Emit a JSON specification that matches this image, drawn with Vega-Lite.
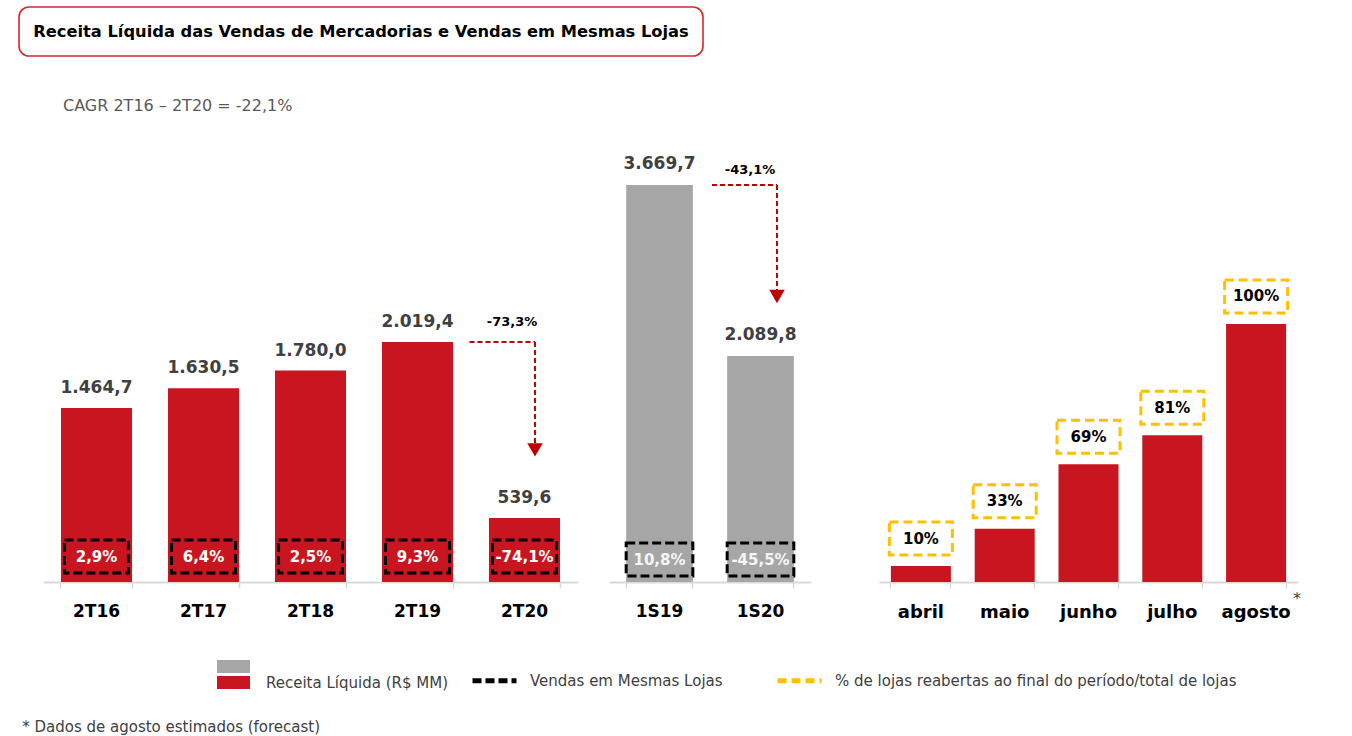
{
  "$schema": "https://vega.github.io/schema/vega-lite/v6.json",
  "padding": {"left": 18, "top": 6, "right": 0, "bottom": 0},
  "autosize": {"type": "pad"},
  "datasets": {
    "trimestre": [
      {"periodo": "2T16", "receita": 1464.7, "sss": 0.029},
      {"periodo": "2T17", "receita": 1630.5, "sss": 0.064},
      {"periodo": "2T18", "receita": 1780.0, "sss": 0.025},
      {"periodo": "2T19", "receita": 2019.4, "sss": 0.093},
      {"periodo": "2T20", "receita": 539.6, "sss": -0.741}
    ],
    "var_tri": [{"de": "2T19", "para": "2T20", "receita_de": 2019.4, "receita_para": 539.6, "variacao": -0.733}],
    "semestre": [
      {"periodo": "1S19", "receita": 3669.7, "sss": 0.108},
      {"periodo": "1S20", "receita": 2089.8, "sss": -0.455}
    ],
    "var_sem": [{"de": "1S19", "para": "1S20", "receita_de": 3669.7, "receita_para": 2089.8, "variacao": -0.431}],
    "mensal": [
      {"mes": "abril", "receita": 46, "lojas": 0.10},
      {"mes": "maio", "receita": 154, "lojas": 0.33},
      {"mes": "junho", "receita": 340, "lojas": 0.69},
      {"mes": "julho", "receita": 424, "lojas": 0.81},
      {"mes": "agosto", "receita": 745, "lojas": 1.0}
    ],
    "nota": [{"mes": "agosto", "marca": "*"}]
  },
  "title": {"text": "* Dados de agosto estimados (forecast)", "orient": "bottom", "anchor": "start", "frame": "bounds", "offset": 29, "dx": 4, "fontSize": 15, "fontWeight": "normal", "color": "#404040", "font": "DejaVu Sans"},
  "vconcat": [
    {
      "width": 684, "height": 49,
      "view": {"stroke": "#D9262E", "strokeWidth": 1.6, "cornerRadius": 10},
      "data": {"values": [{"t": "Receita Líquida das Vendas de Mercadorias e Vendas em Mesmas Lojas"}]},
      "mark": {"type": "text", "fontSize": 16.3, "fontWeight": "bold", "color": "#000000", "baseline": "middle"},
      "encoding": {"text": {"field": "t"}}
    },
    {
      "spacing": 23,
      "hconcat": [
        {
          "width": 1, "height": 441,
          "data": {"values": [{"s": ""}]},
          "mark": {"type": "text", "opacity": 0},
          "encoding": {"text": {"field": "s"}}
        },
        {
          "title": {"text": "CAGR 2T16 – 2T20 = -22,1%", "anchor": "start", "dx": 20, "offset": 27, "fontSize": 16, "fontWeight": "normal", "color": "#595959"},
          "spacing": 68,
          "hconcat": [
            {
              "spacing": 31,
              "hconcat": [
                {
                  "width": 535, "height": 441,
                  "layer": [
                    {
                      "data": {"name": "trimestre"},
                      "mark": {"type": "bar"},
                      "encoding": {
                        "x": {"field": "periodo", "type": "nominal", "title": null,
                              "scale": {"paddingInner": 0.336, "paddingOuter": 0.168},
                              "axis": {"labelAngle": 0, "bandPosition": 1, "tickExtra": true, "domainColor": "#D9D9D9", "domainWidth": 2, "tickColor": "#D9D9D9", "tickWidth": 1.5, "tickSize": 6, "labelFontSize": 17, "labelFontWeight": "bold", "labelColor": "#000000", "labelPadding": 15, "grid": false}},
                        "y": {"field": "receita", "type": "quantitative", "scale": {"domain": [0, 3712], "nice": false}, "axis": null},
                        "color": {"datum": "Receita Líquida (R$ MM)",
                                  "scale": {"domain": ["Receita Líquida semestral (R$ MM)", "Receita Líquida (R$ MM)"], "range": ["#A6A6A6", "#C8151F"]},
                                  "legend": {"orient": "none", "legendX": 207, "legendY": 652, "title": null, "direction": "vertical", "symbolType": "M-2.54,-1H2.54V1H-2.54Z", "symbolSize": 169, "symbolStrokeWidth": 0, "labelExpr": "datum.value == 'Receita Líquida semestral (R$ MM)' ? '' : datum.label", "labelFontSize": 15, "labelColor": "#404040", "labelOffset": 25, "rowPadding": 0, "padding": 0, "labelLimit": 400}}
                      }
                    },
                    {
                      "data": {"name": "trimestre"},
                      "mark": {"type": "text", "dy": -20, "baseline": "middle", "fontSize": 17, "fontWeight": "bold", "color": "#404040"},
                      "encoding": {
                        "x": {"field": "periodo", "type": "nominal", "title": null,
                              "axis": {"labelAngle": 0, "bandPosition": 1, "tickExtra": true, "domainColor": "#D9D9D9", "domainWidth": 2, "tickColor": "#D9D9D9", "tickWidth": 1.5, "tickSize": 6, "labelFontSize": 17, "labelFontWeight": "bold", "labelColor": "#000000", "labelPadding": 15, "grid": false}},
                        "y": {"field": "receita", "type": "quantitative", "axis": null},
                        "text": {"field": "receita", "type": "quantitative", "format": ",.1f"}
                      }
                    },
                    {
                      "data": {"name": "trimestre"},
                      "mark": {"type": "bar", "filled": false, "strokeWidth": 3, "width": {"band": 0.9}, "yOffset": -42, "y2Offset": -9},
                      "encoding": {
                        "x": {"field": "periodo", "type": "nominal", "title": null,
                              "axis": {"labelAngle": 0, "bandPosition": 1, "tickExtra": true, "domainColor": "#D9D9D9", "domainWidth": 2, "tickColor": "#D9D9D9", "tickWidth": 1.5, "tickSize": 6, "labelFontSize": 17, "labelFontWeight": "bold", "labelColor": "#000000", "labelPadding": 15, "grid": false}},
                        "y": {"datum": 0, "type": "quantitative", "axis": null},
                        "y2": {"datum": 0},
                        "stroke": {"datum": "Vendas em Mesmas Lojas",
                                   "scale": {"domain": ["Vendas em Mesmas Lojas", "% de lojas reabertas ao final do período/total de lojas"], "range": ["#000000", "#FFC000"]},
                                   "legend": {"orient": "none", "legendX": 451, "legendY": 649, "title": null, "direction": "horizontal", "symbolType": "stroke", "symbolSize": 1936, "symbolStrokeWidth": 5, "labelFontSize": 15, "labelColor": "#404040", "labelOffset": 11, "columnPadding": 44, "padding": 0, "labelLimit": 600}},
                        "strokeDash": {"datum": "Vendas em Mesmas Lojas",
                                   "scale": {"domain": ["Vendas em Mesmas Lojas", "% de lojas reabertas ao final do período/total de lojas"], "range": [[9, 4], [9, 5]]},
                                   "legend": {"orient": "none", "legendX": 451, "legendY": 649, "title": null, "direction": "horizontal", "symbolType": "stroke", "symbolSize": 1936, "symbolStrokeWidth": 5, "labelFontSize": 15, "labelColor": "#404040", "labelOffset": 11, "columnPadding": 44, "padding": 0, "labelLimit": 600}}
                      }
                    },
                    {
                      "data": {"name": "trimestre"},
                      "mark": {"type": "text", "dy": -25, "baseline": "middle", "fontSize": 15, "fontWeight": "bold", "color": "#FFFFFF"},
                      "encoding": {
                        "x": {"field": "periodo", "type": "nominal", "title": null,
                              "axis": {"labelAngle": 0, "bandPosition": 1, "tickExtra": true, "domainColor": "#D9D9D9", "domainWidth": 2, "tickColor": "#D9D9D9", "tickWidth": 1.5, "tickSize": 6, "labelFontSize": 17, "labelFontWeight": "bold", "labelColor": "#000000", "labelPadding": 15, "grid": false}},
                        "y": {"datum": 0, "type": "quantitative", "axis": null},
                        "text": {"field": "sss", "type": "quantitative", "format": ".1%"}
                      }
                    },
                    {
                      "data": {"name": "var_tri"},
                      "mark": {"type": "rule", "color": "#C00000", "strokeWidth": 2, "strokeDash": [5, 3], "xOffset": 52, "x2Offset": 10.5},
                      "encoding": {
                        "x": {"field": "de", "type": "nominal", "title": null,
                              "axis": {"labelAngle": 0, "bandPosition": 1, "tickExtra": true, "domainColor": "#D9D9D9", "domainWidth": 2, "tickColor": "#D9D9D9", "tickWidth": 1.5, "tickSize": 6, "labelFontSize": 17, "labelFontWeight": "bold", "labelColor": "#000000", "labelPadding": 15, "grid": false}},
                        "x2": {"field": "para"},
                        "y": {"field": "receita_de", "type": "quantitative", "axis": null}
                      }
                    },
                    {
                      "data": {"name": "var_tri"},
                      "mark": {"type": "rule", "color": "#C00000", "strokeWidth": 2, "strokeDash": [5, 3], "xOffset": 10.5, "y2Offset": -73},
                      "encoding": {
                        "x": {"field": "para", "type": "nominal", "title": null,
                              "axis": {"labelAngle": 0, "bandPosition": 1, "tickExtra": true, "domainColor": "#D9D9D9", "domainWidth": 2, "tickColor": "#D9D9D9", "tickWidth": 1.5, "tickSize": 6, "labelFontSize": 17, "labelFontWeight": "bold", "labelColor": "#000000", "labelPadding": 15, "grid": false}},
                        "y": {"field": "receita_de", "type": "quantitative", "axis": null},
                        "y2": {"field": "receita_para"}
                      }
                    },
                    {
                      "data": {"name": "var_tri"},
                      "mark": {"type": "point", "shape": "triangle-down", "filled": true, "opacity": 1, "color": "#C00000", "size": 240, "xOffset": 10.5, "yOffset": -68},
                      "encoding": {
                        "x": {"field": "para", "type": "nominal", "title": null,
                              "axis": {"labelAngle": 0, "bandPosition": 1, "tickExtra": true, "domainColor": "#D9D9D9", "domainWidth": 2, "tickColor": "#D9D9D9", "tickWidth": 1.5, "tickSize": 6, "labelFontSize": 17, "labelFontWeight": "bold", "labelColor": "#000000", "labelPadding": 15, "grid": false}},
                        "y": {"field": "receita_para", "type": "quantitative", "axis": null}
                      }
                    },
                    {
                      "data": {"name": "var_tri"},
                      "mark": {"type": "text", "dx": -12.5, "dy": -20, "baseline": "middle", "fontSize": 13, "fontWeight": "bold", "color": "#000000"},
                      "encoding": {
                        "x": {"field": "para", "type": "nominal", "title": null,
                              "axis": {"labelAngle": 0, "bandPosition": 1, "tickExtra": true, "domainColor": "#D9D9D9", "domainWidth": 2, "tickColor": "#D9D9D9", "tickWidth": 1.5, "tickSize": 6, "labelFontSize": 17, "labelFontWeight": "bold", "labelColor": "#000000", "labelPadding": 15, "grid": false}},
                        "y": {"field": "receita_de", "type": "quantitative", "axis": null},
                        "text": {"field": "variacao", "type": "quantitative", "format": ".1%"}
                      }
                    }
                  ]
                },
                {
                  "width": 202, "height": 441,
                  "layer": [
                    {
                      "data": {"name": "semestre"},
                      "mark": {"type": "bar"},
                      "encoding": {
                        "x": {"field": "periodo", "type": "nominal", "title": null,
                              "scale": {"paddingInner": 0.34, "paddingOuter": 0.17},
                              "axis": {"labelAngle": 0, "bandPosition": 1, "tickExtra": true, "domainColor": "#D9D9D9", "domainWidth": 2, "tickColor": "#D9D9D9", "tickWidth": 1.5, "tickSize": 6, "labelFontSize": 17, "labelFontWeight": "bold", "labelColor": "#000000", "labelPadding": 15, "grid": false}},
                        "y": {"field": "receita", "type": "quantitative", "scale": {"domain": [0, 4076.5], "nice": false}, "axis": null},
                        "color": {"datum": "Receita Líquida semestral (R$ MM)",
                                  "scale": {"domain": ["Receita Líquida semestral (R$ MM)", "Receita Líquida (R$ MM)"], "range": ["#A6A6A6", "#C8151F"]},
                                  "legend": null}
                      }
                    },
                    {
                      "data": {"name": "semestre"},
                      "mark": {"type": "text", "dy": -21, "baseline": "middle", "fontSize": 17, "fontWeight": "bold", "color": "#404040"},
                      "encoding": {
                        "x": {"field": "periodo", "type": "nominal", "title": null,
                              "axis": {"labelAngle": 0, "bandPosition": 1, "tickExtra": true, "domainColor": "#D9D9D9", "domainWidth": 2, "tickColor": "#D9D9D9", "tickWidth": 1.5, "tickSize": 6, "labelFontSize": 17, "labelFontWeight": "bold", "labelColor": "#000000", "labelPadding": 15, "grid": false}},
                        "y": {"field": "receita", "type": "quantitative", "axis": null},
                        "text": {"field": "receita", "type": "quantitative", "format": ",.1f"}
                      }
                    },
                    {
                      "data": {"name": "semestre"},
                      "mark": {"type": "bar", "filled": false, "strokeWidth": 3, "width": {"band": 1}, "yOffset": -39, "y2Offset": -6},
                      "encoding": {
                        "x": {"field": "periodo", "type": "nominal", "title": null,
                              "axis": {"labelAngle": 0, "bandPosition": 1, "tickExtra": true, "domainColor": "#D9D9D9", "domainWidth": 2, "tickColor": "#D9D9D9", "tickWidth": 1.5, "tickSize": 6, "labelFontSize": 17, "labelFontWeight": "bold", "labelColor": "#000000", "labelPadding": 15, "grid": false}},
                        "y": {"datum": 0, "type": "quantitative", "axis": null},
                        "y2": {"datum": 0},
                        "stroke": {"datum": "Vendas em Mesmas Lojas",
                                   "scale": {"domain": ["Vendas em Mesmas Lojas", "% de lojas reabertas ao final do período/total de lojas"], "range": ["#000000", "#FFC000"]},
                                   "legend": null},
                        "strokeDash": {"datum": "Vendas em Mesmas Lojas",
                                   "scale": {"domain": ["Vendas em Mesmas Lojas", "% de lojas reabertas ao final do período/total de lojas"], "range": [[9, 4], [9, 5]]},
                                   "legend": null}
                      }
                    },
                    {
                      "data": {"name": "semestre"},
                      "mark": {"type": "text", "dy": -22, "baseline": "middle", "fontSize": 15, "fontWeight": "bold", "color": "#F5F5F5"},
                      "encoding": {
                        "x": {"field": "periodo", "type": "nominal", "title": null,
                              "axis": {"labelAngle": 0, "bandPosition": 1, "tickExtra": true, "domainColor": "#D9D9D9", "domainWidth": 2, "tickColor": "#D9D9D9", "tickWidth": 1.5, "tickSize": 6, "labelFontSize": 17, "labelFontWeight": "bold", "labelColor": "#000000", "labelPadding": 15, "grid": false}},
                        "y": {"datum": 0, "type": "quantitative", "axis": null},
                        "text": {"field": "sss", "type": "quantitative", "format": ".1%"}
                      }
                    },
                    {
                      "data": {"name": "var_sem"},
                      "mark": {"type": "rule", "color": "#C00000", "strokeWidth": 2, "strokeDash": [5, 3], "xOffset": 52.5, "x2Offset": 16.5},
                      "encoding": {
                        "x": {"field": "de", "type": "nominal", "title": null,
                              "axis": {"labelAngle": 0, "bandPosition": 1, "tickExtra": true, "domainColor": "#D9D9D9", "domainWidth": 2, "tickColor": "#D9D9D9", "tickWidth": 1.5, "tickSize": 6, "labelFontSize": 17, "labelFontWeight": "bold", "labelColor": "#000000", "labelPadding": 15, "grid": false}},
                        "x2": {"field": "para"},
                        "y": {"field": "receita_de", "type": "quantitative", "axis": null}
                      }
                    },
                    {
                      "data": {"name": "var_sem"},
                      "mark": {"type": "rule", "color": "#C00000", "strokeWidth": 2, "strokeDash": [5, 3], "xOffset": 16.5, "y2Offset": -63.5},
                      "encoding": {
                        "x": {"field": "para", "type": "nominal", "title": null,
                              "axis": {"labelAngle": 0, "bandPosition": 1, "tickExtra": true, "domainColor": "#D9D9D9", "domainWidth": 2, "tickColor": "#D9D9D9", "tickWidth": 1.5, "tickSize": 6, "labelFontSize": 17, "labelFontWeight": "bold", "labelColor": "#000000", "labelPadding": 15, "grid": false}},
                        "y": {"field": "receita_de", "type": "quantitative", "axis": null},
                        "y2": {"field": "receita_para"}
                      }
                    },
                    {
                      "data": {"name": "var_sem"},
                      "mark": {"type": "point", "shape": "triangle-down", "filled": true, "opacity": 1, "color": "#C00000", "size": 240, "xOffset": 16.5, "yOffset": -59.5},
                      "encoding": {
                        "x": {"field": "para", "type": "nominal", "title": null,
                              "axis": {"labelAngle": 0, "bandPosition": 1, "tickExtra": true, "domainColor": "#D9D9D9", "domainWidth": 2, "tickColor": "#D9D9D9", "tickWidth": 1.5, "tickSize": 6, "labelFontSize": 17, "labelFontWeight": "bold", "labelColor": "#000000", "labelPadding": 15, "grid": false}},
                        "y": {"field": "receita_para", "type": "quantitative", "axis": null}
                      }
                    },
                    {
                      "data": {"name": "var_sem"},
                      "mark": {"type": "text", "dx": -10.5, "dy": -15, "baseline": "middle", "fontSize": 13, "fontWeight": "bold", "color": "#000000"},
                      "encoding": {
                        "x": {"field": "para", "type": "nominal", "title": null,
                              "axis": {"labelAngle": 0, "bandPosition": 1, "tickExtra": true, "domainColor": "#D9D9D9", "domainWidth": 2, "tickColor": "#D9D9D9", "tickWidth": 1.5, "tickSize": 6, "labelFontSize": 17, "labelFontWeight": "bold", "labelColor": "#000000", "labelPadding": 15, "grid": false}},
                        "y": {"field": "receita_de", "type": "quantitative", "axis": null},
                        "text": {"field": "variacao", "type": "quantitative", "format": ".1%"}
                      }
                    }
                  ]
                }
              ]
            },
            {
              "width": 419, "height": 441,
              "layer": [
                {
                  "data": {"name": "mensal"},
                  "mark": {"type": "bar"},
                  "encoding": {
                    "x": {"field": "mes", "type": "nominal", "title": null,
                          "scale": {"domain": ["abril", "maio", "junho", "julho", "agosto"], "paddingInner": 0.284, "paddingOuter": 0.142},
                          "axis": {"labelAngle": 0, "bandPosition": 1, "tickExtra": true, "domainColor": "#D9D9D9", "domainWidth": 2, "tickColor": "#D9D9D9", "tickWidth": 1.5, "tickSize": 6, "labelFontSize": 18, "labelFontWeight": "bold", "labelColor": "#000000", "labelPadding": 15, "grid": false}},
                    "y": {"field": "receita", "type": "quantitative", "scale": {"domain": [0, 1273.4], "nice": false}, "axis": null},
                    "color": {"datum": "Receita Líquida (R$ MM)",
                              "scale": {"domain": ["Receita Líquida semestral (R$ MM)", "Receita Líquida (R$ MM)"], "range": ["#A6A6A6", "#C8151F"]},
                              "legend": null}
                  }
                },
                {
                  "data": {"name": "mensal"},
                  "mark": {"type": "bar", "filled": false, "strokeWidth": 3, "width": {"band": 1.05}, "yOffset": -44, "y2Offset": -11},
                  "encoding": {
                    "x": {"field": "mes", "type": "nominal", "title": null,
                          "axis": {"labelAngle": 0, "bandPosition": 1, "tickExtra": true, "domainColor": "#D9D9D9", "domainWidth": 2, "tickColor": "#D9D9D9", "tickWidth": 1.5, "tickSize": 6, "labelFontSize": 18, "labelFontWeight": "bold", "labelColor": "#000000", "labelPadding": 15, "grid": false}},
                    "y": {"field": "receita", "type": "quantitative", "axis": null},
                    "y2": {"field": "receita"},
                    "stroke": {"datum": "% de lojas reabertas ao final do período/total de lojas",
                               "scale": {"domain": ["Vendas em Mesmas Lojas", "% de lojas reabertas ao final do período/total de lojas"], "range": ["#000000", "#FFC000"]},
                               "legend": null},
                    "strokeDash": {"datum": "% de lojas reabertas ao final do período/total de lojas",
                               "scale": {"domain": ["Vendas em Mesmas Lojas", "% de lojas reabertas ao final do período/total de lojas"], "range": [[9, 4], [9, 5]]},
                               "legend": null}
                  }
                },
                {
                  "data": {"name": "mensal"},
                  "mark": {"type": "text", "dy": -27.5, "baseline": "middle", "fontSize": 15, "fontWeight": "bold", "color": "#000000"},
                  "encoding": {
                    "x": {"field": "mes", "type": "nominal", "title": null,
                          "axis": {"labelAngle": 0, "bandPosition": 1, "tickExtra": true, "domainColor": "#D9D9D9", "domainWidth": 2, "tickColor": "#D9D9D9", "tickWidth": 1.5, "tickSize": 6, "labelFontSize": 18, "labelFontWeight": "bold", "labelColor": "#000000", "labelPadding": 15, "grid": false}},
                    "y": {"field": "receita", "type": "quantitative", "axis": null},
                    "text": {"field": "lojas", "type": "quantitative", "format": ".0%"}
                  }
                },
                {
                  "data": {"name": "nota"},
                  "mark": {"type": "text", "dx": 41, "dy": 17, "baseline": "middle", "fontSize": 16, "color": "#404040"},
                  "encoding": {
                    "x": {"field": "mes", "type": "nominal", "title": null,
                          "axis": {"labelAngle": 0, "bandPosition": 1, "tickExtra": true, "domainColor": "#D9D9D9", "domainWidth": 2, "tickColor": "#D9D9D9", "tickWidth": 1.5, "tickSize": 6, "labelFontSize": 18, "labelFontWeight": "bold", "labelColor": "#000000", "labelPadding": 15, "grid": false}},
                    "y": {"datum": 0, "type": "quantitative", "axis": null},
                    "text": {"field": "marca"}
                  }
                }
              ]
            }
          ]
        }
      ]
    }
  ],
  "spacing": 41,
  "config": {
    "font": "DejaVu Sans",
    "view": {"stroke": null},
    "locale": {"number": {"decimal": ",", "thousands": ".", "grouping": [3], "currency": ["R$", ""], "minus": "-"}}
  }
}
